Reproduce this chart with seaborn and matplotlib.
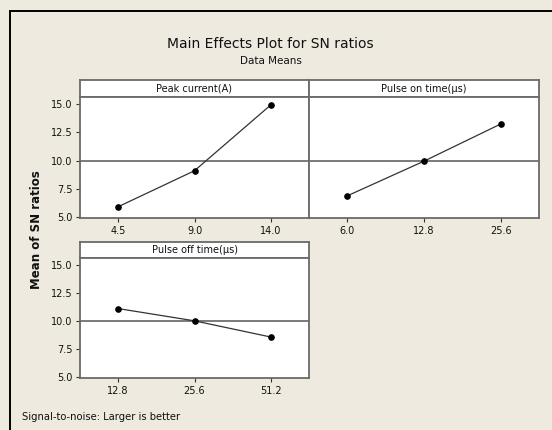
import matplotlib
matplotlib.use("Agg")
import matplotlib.pyplot as plt
import seaborn as sns
import pandas as pd
import numpy as np
from matplotlib.patches import Rectangle

sns.set_theme(style="white")
plt.rcParams['font.family'] = ['DejaVu Sans']

# ---- data ----
factors = ["Peak current(A)", "Pulse on time(µs)", "Pulse off time(µs)"]
peak_levels = ["4.5", "9.0", "14.0"]
peak_sn = [5.9, 9.1, 14.95]
pon_levels = ["6.0", "12.8", "25.6"]
pon_sn = [6.87, 9.95, 13.25]
poff_levels = ["12.8", "25.6", "51.2"]
poff_sn = [11.12, 10.02, 8.57]
ytick_vals = [5.0, 7.5, 10.0, 12.5, 15.0]

title = "Main Effects Plot for SN ratios"
subtitle = "Data Means"
ylabel = "Mean of SN ratios"
footer = "Signal-to-noise: Larger is better"

grand_mean = float(np.mean(peak_sn + pon_sn + poff_sn))

W, H = 552, 430
BG = "#EEEAE0"
EDGE = "#6a6a6a"
fig = plt.figure(figsize=(W / 100, H / 100), dpi=100, facecolor=BG)

def px_axes(x0, y0, x1, y1, **kw):
    return fig.add_axes([x0 / W, 1 - y1 / H, (x1 - x0) / W, (y1 - y0) / H], **kw)

# outer border (top and left only visible)
fig.add_artist(Rectangle((10 / W, -0.1), 1.2, 1 - 11 / H + 0.1, transform=fig.transFigure,
                         fill=False, edgecolor="black", linewidth=1.4))

panels = [
    (factors[0], peak_levels, peak_sn, (80, 80, 309, 97, 218), True),
    (factors[1], pon_levels, pon_sn, (309, 80, 539, 97, 218), False),
    (factors[2], poff_levels, poff_sn, (80, 242, 309, 258, 378), True),
]

for name, levels, vals, (x0, ys, x1, yp, yb), showy in panels:
    # strip
    sax = px_axes(x0, ys, x1, yp)
    sax.set_facecolor("white")
    sax.set_xticks([]); sax.set_yticks([])
    for s in sax.spines.values():
        s.set_color(EDGE); s.set_linewidth(1.3)
    sax.text(0.5, 0.5, name, ha="center", va="center", fontsize=7, color="#111111",
             transform=sax.transAxes)
    # plot
    ax = px_axes(x0, yp, x1, yb)
    ax.set_facecolor("white")
    df = pd.DataFrame({"x": np.arange(len(levels)), "y": vals})
    ax.axhline(grand_mean, color="#707070", linewidth=1.3, zorder=1)
    sns.lineplot(data=df, x="x", y="y", ax=ax, color="#333333", linewidth=0.9,
                 marker="o", markersize=4, markeredgecolor="black",
                 markerfacecolor="black", zorder=3)
    ax.set_xlim(-0.5, 2.5)
    ax.set_ylim(4.9, 15.65)
    ax.set_xticks(np.arange(len(levels)))
    ax.set_xticklabels(levels)
    ax.set_yticks(ytick_vals)
    ax.set_yticklabels([f"{v:.1f}" for v in ytick_vals] if showy else [])
    ax.tick_params(axis="both", labelsize=7, colors="#333333", labelcolor="#111111",
                   length=3, width=0.8, pad=2.5, direction="out",
                   left=showy, bottom=True)
    ax.set_xlabel(""); ax.set_ylabel("")
    for s in ax.spines.values():
        s.set_color(EDGE); s.set_linewidth(1.3)

fig.text(270 / W, 1 - 44 / H, title, ha="center", va="center", fontsize=10, color="#111111")
fig.text(271 / W, 1 - 61 / H, subtitle, ha="center", va="center", fontsize=7.5, color="#111111")
fig.text(37 / W, 1 - 230 / H, ylabel, ha="center", va="center", rotation=90,
         fontsize=8.5, fontweight="bold", color="#111111")
fig.text(22 / W, 1 - 417 / H, footer, ha="left", va="center", fontsize=7.2, color="#111111")

fig.savefig("out.png", dpi=100, facecolor=BG)
